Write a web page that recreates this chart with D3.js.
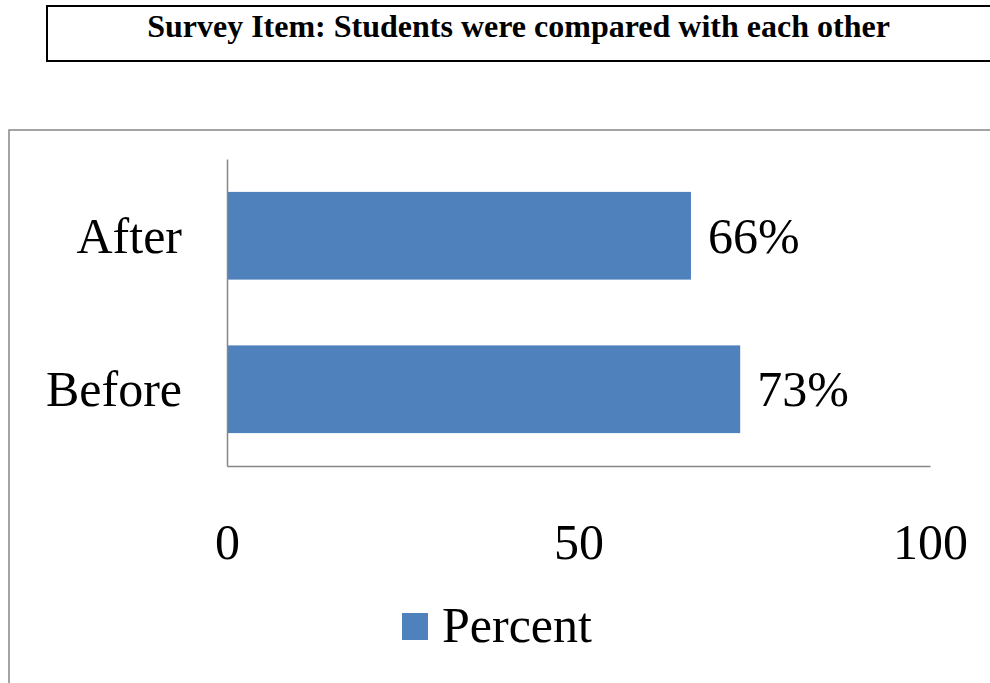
<!DOCTYPE html>
<html>
<head>
<meta charset="utf-8">
<script src="https://cdn.jsdelivr.net/npm/d3@7"></script>
<style>
  body { margin: 0; background: #fff; overflow: hidden; }
</style>
</head>
<body>
<svg></svg>
<script>
// chart data
const titleText = "Survey Item: Students were compared with each other";
const categories = ["After", "Before"];
const percents = [66, 73];
const xTicks = [0, 50, 100];
const seriesName = "Percent";

const width = 990;
const height = 683;
const barColor = "#4f81bd";
const axisGrey = "#868686";
const labelFont = "'Liberation Serif', 'Times New Roman', serif";
const labelSize = "50px";

const svg = d3.select("svg")
    .attr("width", width)
    .attr("height", height);

// title box across the top
svg.append("rect")
    .attr("x", 47)
    .attr("y", 6)
    .attr("width", 946)
    .attr("height", 55)
    .attr("fill", "none")
    .attr("stroke", "#000")
    .attr("stroke-width", 2);

svg.append("text")
    .attr("x", 518.5)
    .attr("y", 37)
    .attr("text-anchor", "middle")
    .attr("font-family", "'Liberation Serif', 'Times New Roman', serif")
    .attr("font-weight", "bold")
    .attr("font-size", "32px")
    .text(titleText);

// chart frame (runs off the page on right and bottom)
svg.append("rect")
    .attr("x", 9)
    .attr("y", 130)
    .attr("width", 1000)
    .attr("height", 600)
    .attr("fill", "none")
    .attr("stroke", axisGrey)
    .attr("stroke-width", 1.5);

const plotLeft = 227, plotRight = 930;
const plotTop = 159, plotBottom = 466;

// x scale
const x = d3.scaleLinear()
    .domain([0, 100])
    .range([plotLeft, plotRight]);

// y scale, Excel style gap width 75%
const y = d3.scaleBand()
    .domain(categories)
    .range([plotTop, plotBottom])
    .paddingInner(0.75 / 1.75)
    .paddingOuter(0.375 / 1.75);

// bars
svg.selectAll(".bar")
    .data(categories)
    .enter().append("rect")
    .attr("class", "bar")
    .attr("x", x(0))
    .attr("y", d => y(d))
    .attr("width", (d, i) => x(percents[i]) - x(0))
    .attr("height", y.bandwidth())
    .attr("fill", barColor);

// value labels
svg.selectAll(".val")
    .data(categories)
    .enter().append("text")
    .attr("class", "val")
    .attr("x", (d, i) => x(percents[i]) + 17)
    .attr("y", d => y(d) + y.bandwidth() / 2)
    .attr("dy", "0.34em")
    .attr("font-family", labelFont)
    .attr("font-size", labelSize)
    .attr("fill", "#000")
    .text((d, i) => percents[i] + "%");

// vertical axis with category labels
const yAxis = svg.append("g")
    .attr("transform", `translate(${plotLeft}, 0)`)
    .call(d3.axisLeft(y).tickSize(0).tickSizeOuter(0).tickPadding(45));

yAxis.select(".domain")
    .attr("stroke", axisGrey)
    .attr("stroke-width", 1.5);

yAxis.selectAll(".tick text")
    .attr("font-family", labelFont)
    .attr("font-size", labelSize)
    .attr("fill", "#000")
    .attr("dy", "0.34em");

// horizontal axis
const xAxis = svg.append("g")
    .attr("transform", `translate(0, ${plotBottom})`)
    .call(d3.axisBottom(x).tickValues(xTicks).tickSize(0).tickSizeOuter(0));

xAxis.select(".domain")
    .attr("stroke", axisGrey)
    .attr("stroke-width", 1.5);

xAxis.selectAll(".tick text")
    .attr("font-family", labelFont)
    .attr("font-size", labelSize)
    .attr("fill", "#000")
    .attr("y", 93)
    .attr("dy", null);

// legend
const legend = svg.append("g")
    .attr("transform", "translate(402, 613)");

legend.append("rect")
    .attr("x", 0)
    .attr("y", 0)
    .attr("width", 26)
    .attr("height", 27)
    .attr("fill", barColor);

legend.append("text")
    .attr("x", 40)
    .attr("y", 29)
    .attr("font-family", labelFont)
    .attr("font-size", labelSize)
    .attr("fill", "#000")
    .text(seriesName);
</script>
</body>
</html>
